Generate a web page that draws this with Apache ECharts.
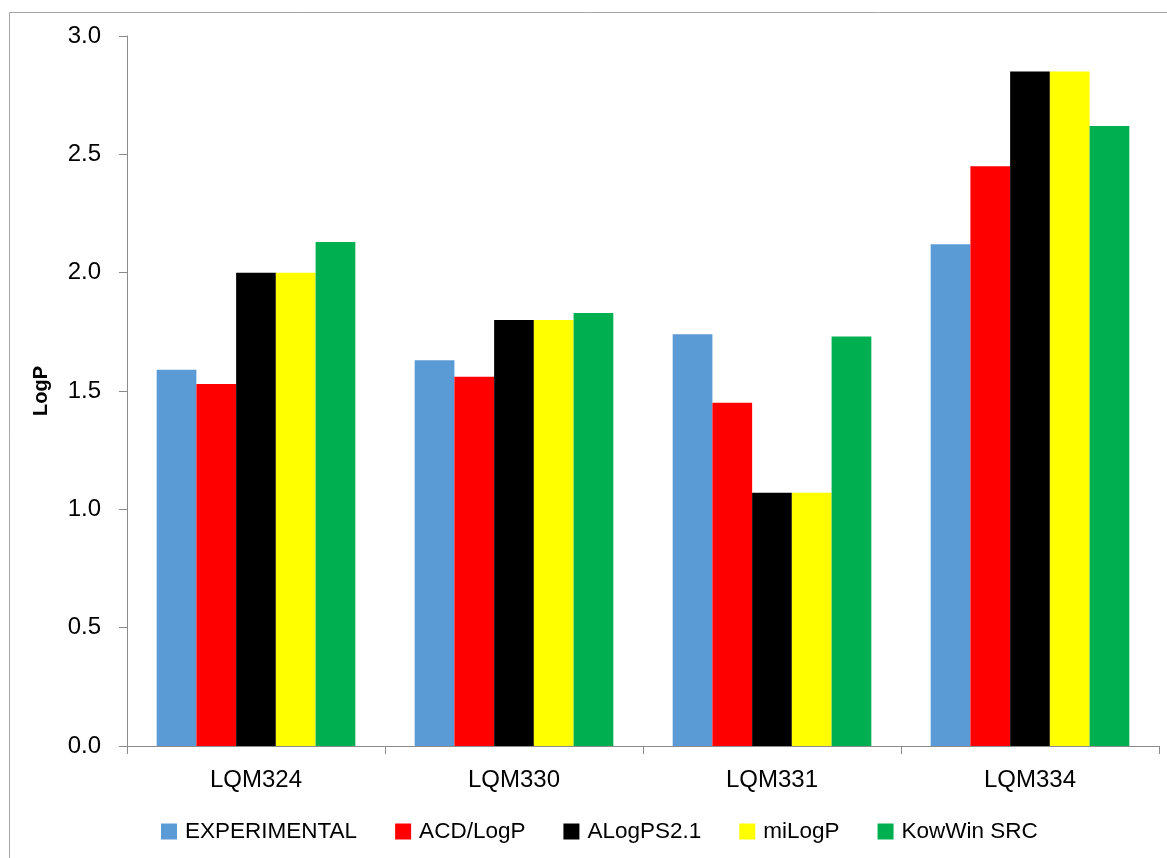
<!DOCTYPE html>
<html>
<head>
<meta charset="utf-8">
<style>html,body{margin:0;padding:0;background:#fff;}#c{width:1167px;height:858px;}</style>
<script src="https://cdn.jsdelivr.net/npm/echarts@6/dist/echarts.min.js"></script>
</head>
<body>
<div id="c"></div>
<script>
const categories = ['LQM324', 'LQM330', 'LQM331', 'LQM334'];
const seriesNames = ['EXPERIMENTAL', 'ACD/LogP', 'ALogPS2.1', 'miLogP', 'KowWin SRC'];
const experimental = [1.59, 1.63, 1.74, 2.12];
const acdLogP = [1.53, 1.56, 1.45, 2.45];
const alogps = [2.00, 1.80, 1.07, 2.85];
const milogp = [2.00, 1.80, 1.07, 2.85];
const kowwin = [2.13, 1.83, 1.73, 2.62];
const yTicks = [0, 0.5, 1.0, 1.5, 2.0, 2.5, 3.0];
const colors = ['#5B9BD5', '#FF0000', '#000000', '#FFFF00', '#00B050'];
const values = [experimental, acdLogP, alogps, milogp, kowwin];

const font = 'Liberation Sans, Arial, sans-serif';
const chart = echarts.init(document.getElementById('c'));
chart.setOption({
  animation: false,
  graphic: [{
    type: 'rect', left: 7, top: 10, silent: true,
    shape: { width: 1200, height: 900 },
    style: { fill: 'none', stroke: '#a6a6a6', lineWidth: 1 }
  }],
  grid: { left: 127, right: 8, top: 36, bottom: 112 },
  legend: {
    left: 156, top: 815, itemWidth: 16, itemHeight: 16, itemGap: 38,
    icon: 'rect',
    textStyle: { fontFamily: font, fontSize: 22.5, color: '#000', padding: [0, 0, 0, 3] },
    data: seriesNames
  },
  xAxis: {
    type: 'category', data: categories,
    axisLine: { lineStyle: { color: '#8c8c8c', width: 1 } },
    axisTick: { show: true, length: 8, lineStyle: { color: '#8c8c8c' } },
    axisLabel: { fontFamily: font, fontSize: 24, color: '#000', margin: 22 }
  },
  yAxis: {
    type: 'value', min: 0, max: 3, interval: 0.5,
    name: 'LogP', nameLocation: 'middle', nameGap: 76, nameRotate: 90,
    nameTextStyle: { fontFamily: font, fontSize: 20, fontWeight: 'bold', color: '#000' },
    axisLine: { show: true, lineStyle: { color: '#8c8c8c', width: 1 } },
    axisTick: { show: true, length: 8, lineStyle: { color: '#8c8c8c' } },
    splitLine: { show: false },
    axisLabel: {
      fontFamily: font, fontSize: 24, color: '#000', margin: 26,
      formatter: v => yTicks.includes(v) ? v.toFixed(1) : ''
    }
  },
  series: seriesNames.map((n, i) => ({
    name: n, type: 'bar', data: values[i],
    itemStyle: { color: colors[i] },
    barGap: '0%', barCategoryGap: '23%'
  }))
});
</script>
</body>
</html>
